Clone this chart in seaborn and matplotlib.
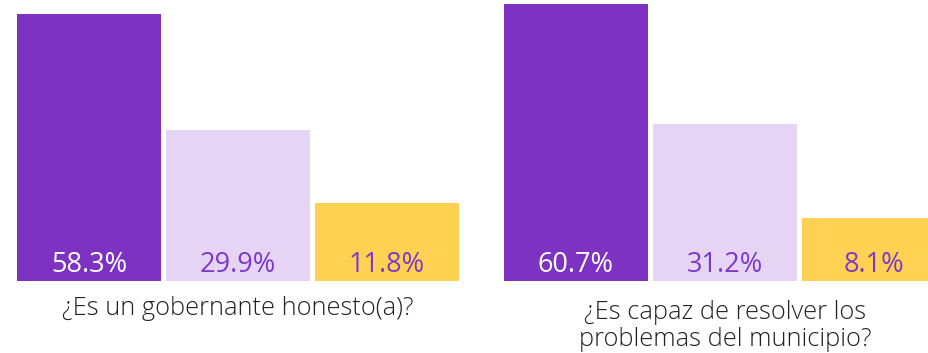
import matplotlib
matplotlib.use("Agg")
import matplotlib.pyplot as plt
import seaborn as sns
import pandas as pd

# Survey answers per question
categories = ["Sí", "No", "NS/NC"]
honesto = [58.3, 29.9, 11.8]
capaz = [60.7, 31.2, 8.1]
titles = ["¿Es un gobernante honesto(a)?",
          "¿Es capaz de resolver los\nproblemas del municipio?"]

bar_colors = ["#7D32C2", "#E6D4F5", "#FFD152"]
label_colors = ["#FFFFFF", "#7D3AC6", "#7D3AC6"]

sns.set_theme(style="white")
plt.rcParams["font.family"] = ["Open Sans", "DejaVu Sans"]

W, H = 929, 353
fig = plt.figure(figsize=(W / 100, H / 100), dpi=100)

BASE = -7.2          # bars start below zero to leave room for the value label
YTOP = 61.77
bottom_px = 280.7
ax_h = bottom_px / H
ax_w = 447 / W
lefts = [14.5 / W, 501.5 / W]
title_y = [315, 346]   # baseline of the last title line, in pixels from the top

for i, (vals, title) in enumerate(zip([honesto, capaz], titles)):
    ax = fig.add_axes([lefts[i], 1 - ax_h, ax_w, ax_h])
    df = pd.DataFrame({"respuesta": categories, "pct": vals})
    sns.barplot(data=df, x="respuesta", y="pct", hue="respuesta",
                palette=bar_colors, order=categories, hue_order=categories,
                width=0.973, saturation=1, legend=False, ax=ax)
    for p in ax.patches:
        idx = int(round(p.get_x() + p.get_width() / 2))
        p.set_y(BASE)
        p.set_height(vals[idx] - BASE)
        p.set_edgecolor("none")
    for j, v in enumerate(vals):
        ax.text(j, -5.13, f"{v:.1f}%", ha="center", va="baseline",
                fontsize=19.5, color=label_colors[j])
    ax.set_xlim(-0.5, 2.5)
    ax.set_ylim(BASE, YTOP)
    ax.axis("off")
    fig.text(lefts[i] + ax_w / 2, 1 - title_y[i] / H, title,
             ha="center", va="baseline", fontsize=18.3, color="#222222",
             fontweight="light", linespacing=1.13)

fig.savefig("out.png", dpi=100, facecolor="white")
